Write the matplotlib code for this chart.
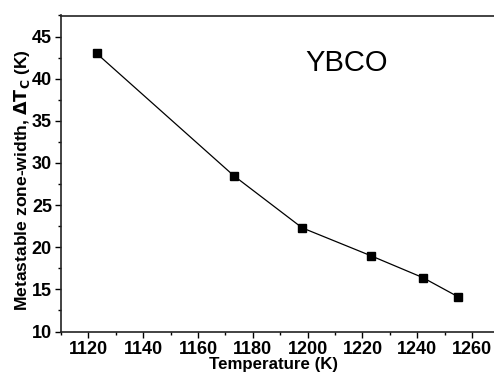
import matplotlib
matplotlib.use("Agg")
import matplotlib.pyplot as plt
from matplotlib.ticker import MultipleLocator

temperature = [1123, 1173, 1198, 1223, 1242, 1255]
delta_tc = [43.0, 28.5, 22.3, 19.0, 16.4, 14.1]
x_ticks = [1120, 1140, 1160, 1180, 1200, 1220, 1240, 1260]
y_ticks = [10, 15, 20, 25, 30, 35, 40, 45]

plt.rcParams['font.family'] = ['Liberation Sans', 'DejaVu Sans']

fig = plt.figure(figsize=(4.94, 3.76), dpi=100)
ax = fig.add_axes([61/494, 1-331.5/376, (499.5-61)/494, (331.5-15.5)/376])

ax.plot(temperature, delta_tc, color='black', lw=0.9, marker='s', ms=5.5,
        mfc='black', mec='black')

ax.set_xlim(1110, 1270)
ax.set_ylim(10, 47.5)
ax.set_xticks(x_ticks)
ax.set_yticks(y_ticks)
ax.xaxis.set_minor_locator(MultipleLocator(10))
ax.yaxis.set_minor_locator(MultipleLocator(2.5))

for s in ['left', 'bottom', 'top']:
    ax.spines[s].set_linewidth(1.2)
    ax.spines[s].set_color('#222222')
ax.spines['right'].set_visible(False)

ax.tick_params(axis='both', which='major', direction='out', length=4, width=1.0,
               labelsize=13, pad=2.5)
ax.tick_params(axis='both', which='minor', direction='out', length=2.5, width=1.0)
ax.tick_params(top=False, right=False, which='both')
for lab in ax.get_xticklabels() + ax.get_yticklabels():
    lab.set_fontweight('bold')

ax.set_xlabel('Temperature (K)', fontsize=12.2, fontweight='bold')
ax.set_ylabel(r'Metastable zone-width, $\mathbf{\Delta T_C}$ (K)', fontsize=12.6,
              fontweight='bold')
ax.xaxis.set_label_coords((273-61)/(499.5-61), -(357-331.5)/316)
ax.yaxis.set_label_coords(-(61-32)/(499.5-61), (331.5-180)/316)

ax.text(1199, 40.9, 'YBCO', fontsize=21, color='black')

fig.savefig('out.png', dpi=100)
